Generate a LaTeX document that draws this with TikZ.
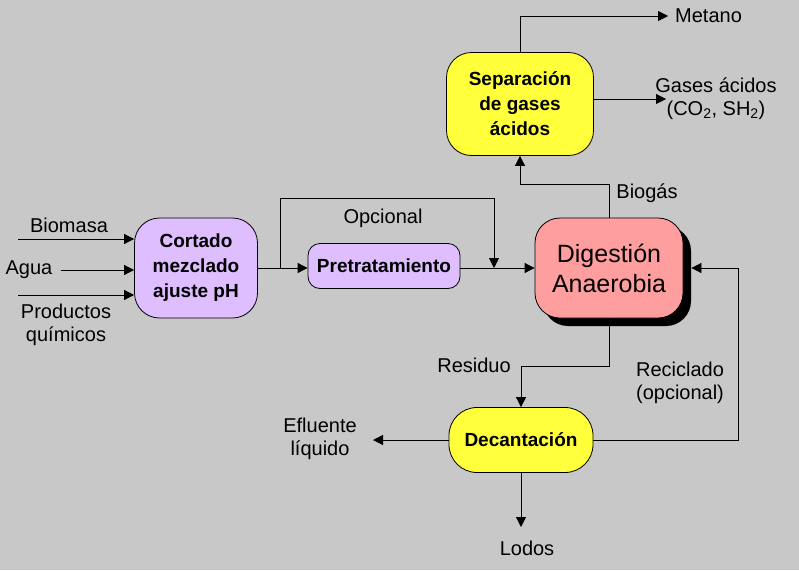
\documentclass[tikz,border=0pt]{standalone}
\usepackage{fontspec}
\setmainfont{Liberation Sans}
\usepackage{xcolor}
\usepackage{tikz}
\usetikzlibrary{arrows.meta,positioning,shadows}

\definecolor{bggray}{RGB}{200,200,200}
\definecolor{boxyellow}{RGB}{255,255,60}
\definecolor{boxlila}{RGB}{222,190,255}
\definecolor{boxpink}{RGB}{255,158,158}

\begin{document}
\begin{tikzpicture}[
x=1pt, y=-1pt,
box/.style={draw, line width=0.8pt, rounded corners=25pt, align=center, font=\fontsize{19}{25}\selectfont\bfseries},
lbl/.style={align=center, font=\fontsize{20}{23}\selectfont, inner sep=0pt},
line/.style={-{Triangle[length=10pt,width=10pt]}, line width=0.8pt}
]
\fill[bggray] (0,0) rectangle (799,570);
\useasboundingbox (0,0) rectangle (799,570);

% process blocks
\node[box, fill=boxyellow, minimum width=147pt, minimum height=103pt] (sep) at (520,104) {Separación\\de gases\\ácidos};
\node[box, fill=boxpink, minimum width=148pt, minimum height=100pt,
  font=\fontsize{25}{30}\selectfont,
  drop shadow={shadow xshift=8pt, shadow yshift=-8pt, fill=black, opacity=1}] (dig) at (609,268) {Digestión\\Anaerobia};
\node[box, fill=boxlila, minimum width=123pt, minimum height=100pt] (cort) at (196,268) {Cortado\\mezclado\\ajuste pH};
\node[box, fill=boxlila, rounded corners=12pt, minimum width=152pt, minimum height=45pt] (pre) at (384,266) {Pretratamiento};
\node[box, fill=boxyellow, rounded corners=28pt, minimum width=144pt, minimum height=65pt] (dec) at (521,440) {Decantación};

% labels
\node[lbl, anchor=west] (metano) at (675,16) {Metano};
\node[lbl] (gases) at (716,99) {Gases ácidos\\(CO\textsubscript{2}, SH\textsubscript{2})};
\node[lbl] (biogas) at (647,193) {Biogás};
\node[lbl] (biomasa) at (69,225) {Biomasa};
\node[lbl] (agua) at (29,270) {Agua};
\node[lbl] (productos) at (66,325) {Productos\\químicos};
\node[lbl] (opcional) at (383,218) {Opcional};
\node[lbl] (residuo) at (474,365) {Residuo};
\node[lbl] (reciclado) at (680,383) {Reciclado\\(opcional)};
\node[lbl] (efluente) at (320,439) {Efluente\\líquido};
\node[lbl] (lodos) at (527,548) {Lodos};

\coordinate (inBio) at (18,239);
\coordinate (inProd) at (18,295);
\coordinate (gasEnd) at (666,99);
\coordinate (bypL) at (280,268);
\coordinate (bypR) at (494,268);
\coordinate (eflEnd) at (373,440);
\coordinate (lodEnd) at (521,527);

% connectors
\draw[line] (sep.north) |- ([xshift=-7pt]metano.west);
\draw[line] (gasEnd -| sep.east) -- (gasEnd);
\draw[line] (dig.north) -- ++(0,-33) -| (sep.south);
\draw[line] (inBio) -- (inBio -| cort.west);
\draw[line] ([xshift=8pt]agua.east) -- (agua.east -| cort.west);
\draw[line] (inProd) -- (inProd -| cort.west);
\draw[line] (cort.east) -- (pre.west |- cort.east);
\draw[line] (bypL) -- ++(0,-70) -| (bypR);
\draw[line] (pre.east |- dig.west) -- (dig.west);
\draw[line] (dig.south) -- ++(0,48) -| (dec.north);
\draw[line] (dec.west) -- (eflEnd);
\draw[line] (dec.south) -- (lodEnd);
\draw[line] (dec.east) -- ++(145,0) |- ([xshift=8pt]dig.east);
\end{tikzpicture}
\end{document}
